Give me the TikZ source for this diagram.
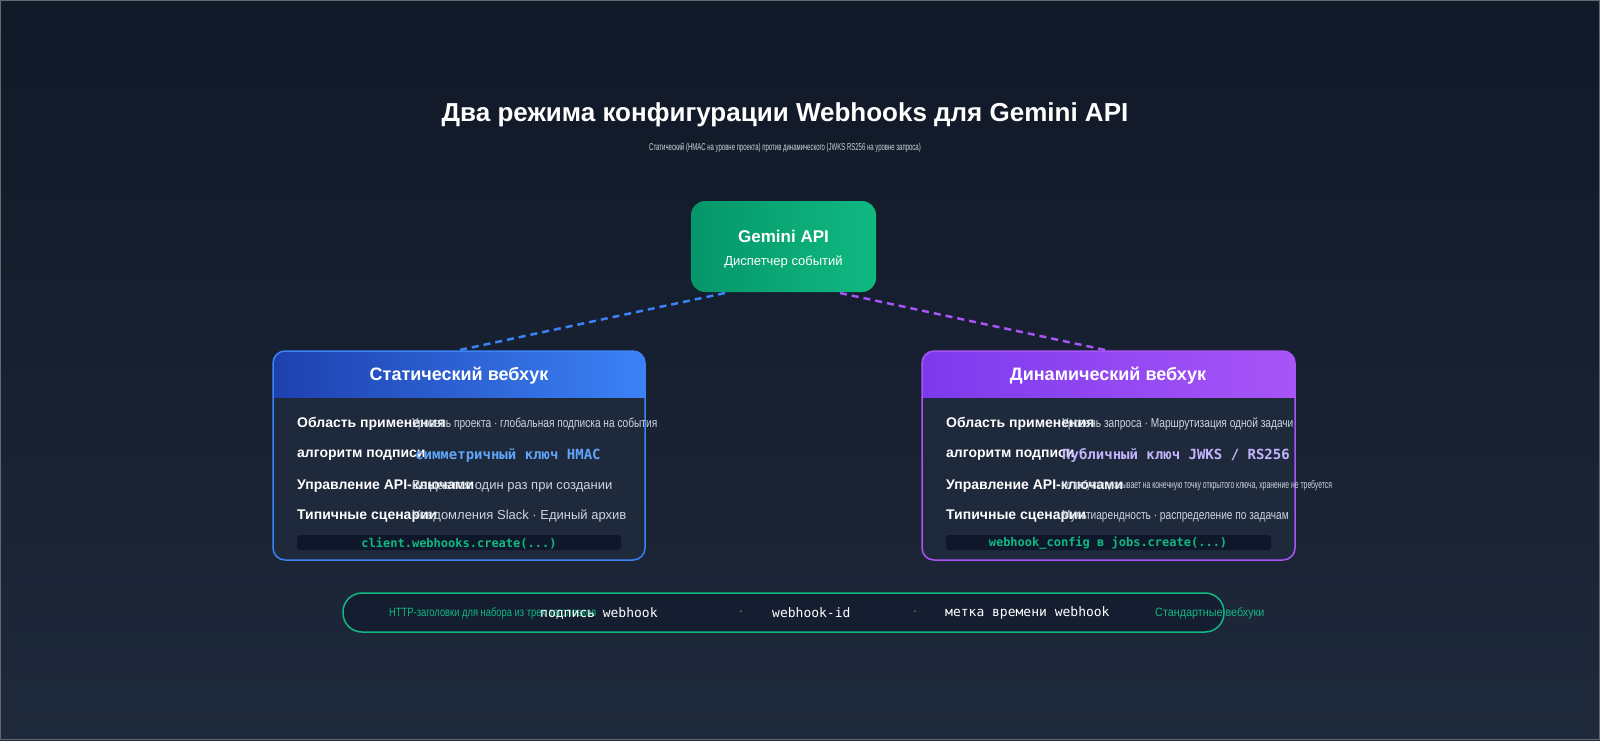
\documentclass[tikz,border=0pt]{standalone}
\usepackage{fontspec}
\setmainfont{Liberation Sans}
\setsansfont{Liberation Sans}
\setmonofont{DejaVu Sans Mono}
\usetikzlibrary{positioning}
\definecolor{bgtop}{HTML}{111827}
\definecolor{bgbot}{HTML}{1E293B}
\definecolor{cardbg}{HTML}{1E293B}
\definecolor{codebg}{HTML}{0F172A}
\definecolor{blueA}{HTML}{1E40AF}
\definecolor{blueB}{HTML}{3B82F6}
\definecolor{purA}{HTML}{7C3AED}
\definecolor{purB}{HTML}{A855F7}
\definecolor{grn}{HTML}{10B981}
\definecolor{grnD}{HTML}{059669}
\definecolor{txtgray}{HTML}{CBD5E1}
\definecolor{hmac}{HTML}{60A5FA}
\definecolor{jwks}{HTML}{C4B5FD}
\newcommand{\cond}[1]{\scalebox{0.78}[1]{#1}}
\tikzset{
  lbl/.style={anchor=west, text=white, font=\fontsize{14}{16}\selectfont\bfseries, inner sep=0},
  val/.style={anchor=west, text=txtgray, font=\fontsize{13}{15}\selectfont, inner sep=0},
  code/.style={text=grn, font=\fontsize{12}{14}\selectfont\ttfamily\bfseries},
  hdr/.style={text=white, font=\fontsize{18}{20}\selectfont\bfseries},
  link/.style={dashed, line width=2.5pt, dash pattern=on 7pt off 5pt},
}
\begin{document}
\begin{tikzpicture}[x=1pt,y=-1pt]
\useasboundingbox (0,0) rectangle (1600,740);
% background
\shade[top color=bgtop, bottom color=bgbot] (0,0) rectangle (1600,740);
\draw[bgbot!70!white, line width=1pt] (0.5,0.5) rectangle (1599.5,739.5);
% title
\node[text=white, font=\fontsize{26}{30}\selectfont\bfseries] (title) at (785,115) {Два режима конфигурации Webhooks для Gemini API};
\node[text=txtgray, font=\fontsize{10}{12}\selectfont] (subtitle) at (785,148) {\scalebox{0.6}[1]{Статический (HMAC на уровне проекта) против динамического (JWKS RS256 на уровне запроса)}};
% dispatcher
\shade[rounded corners=14pt, left color=grnD, right color=grn] (691,201) rectangle (876,292);
\node[text=white, font=\fontsize{17}{20}\selectfont\bfseries] (gemini) at (783.5,236) {Gemini API};
\node[text=white, font=\fontsize{13}{15}\selectfont] (disp) at (783.5,262) {Диспетчер событий};
\coordinate (gL) at (725,293);
\coordinate (gR) at (840,293);
\coordinate (sTop) at (455,351);
\coordinate (dTop) at (1110,351);
\draw[link, blueB] (gL) -- (sTop);
\draw[link, purB] (gR) -- (dTop);
% static card
\fill[cardbg, rounded corners=12pt] (273,351) rectangle (645,560);
\begin{scope}
\clip[rounded corners=12pt] (273,351) rectangle (645,560);
\shade[left color=blueA, right color=blueB] (273,351) rectangle (645,397);
\end{scope}
\draw[blueB, line width=1.5pt, rounded corners=12pt] (273,351) rectangle (645,560);
\node[hdr] (static) at (459,376) {Статический вебхук};
\node[lbl] (s1) at (297,424) {Область применения};
\node[val] (s1v) at (412,424) {\cond{Уровень проекта · глобальная подписка на события}};
\node[lbl] (s2) at (297,455) {алгоритм подписи};
\node[val, text=hmac, font=\fontsize{14}{16}\selectfont\ttfamily\bfseries] (s2v) at (415,455) {симметричный ключ HMAC};
\node[lbl] (s3) at (297,486) {Управление API-ключами};
\node[val] (s3v) at (412,486) {Выдается один раз при создании};
\node[lbl] (s4) at (297,516) {Типичные сценарии};
\node[val] (s4v) at (412,516) {Уведомления Slack · Единый архив};
\fill[codebg, rounded corners=3pt] (297,535) rectangle (621,550);
\node[code] (scode) at (459,543) {client.webhooks.create(...)};
% dynamic card
\fill[cardbg, rounded corners=12pt] (922,351) rectangle (1295,560);
\begin{scope}
\clip[rounded corners=12pt] (922,351) rectangle (1295,560);
\shade[left color=purA, right color=purB] (922,351) rectangle (1295,397);
\end{scope}
\draw[purB, line width=1.5pt, rounded corners=12pt] (922,351) rectangle (1295,560);
\node[hdr] (dynamic) at (1108,376) {Динамический вебхук};
\node[lbl] (d1) at (946,424) {Область применения};
\node[val] (d1v) at (1062,424) {\cond{Уровень запроса · Маршрутизация одной задачи}};
\node[lbl] (d2) at (946,455) {алгоритм подписи};
\node[val, text=jwks, font=\fontsize{14}{16}\selectfont\ttfamily\bfseries] (d2v) at (1062,455) {Публичный ключ JWKS / RS256};
\node[lbl] (d3) at (946,486) {Управление API-ключами};
\node[val, font=\fontsize{11}{13}\selectfont] (d3v) at (1062,486) {\scalebox{0.62}[1]{Не требуется: указывает на конечную точку открытого ключа, хранение не требуется}};
\node[lbl] (d4) at (946,516) {Типичные сценарии};
\node[val] (d4v) at (1062,516) {\cond{Мультиарендность · распределение по задачам}};
\fill[codebg, rounded corners=3pt] (946,535) rectangle (1271,550);
\node[code] (dcode) at (1108,543) {webhook\_config в jobs.create(...)};
% headers bar
\draw[grn, line width=1.5pt, fill=codebg!60!cardbg, rounded corners=19pt] (343,593) rectangle (1224,632);
\node[val, text=grn, font=\fontsize{12}{14}\selectfont] (hint) at (389,613) {\cond{HTTP-заголовки для набора из трех заголовков}};
\node[val, text=white, font=\fontsize{13}{15}\selectfont\ttfamily] (h1) at (540,613) {подпись webhook};
\node[text=txtgray] (dot1) at (741,613) {·};
\node[val, text=white, font=\fontsize{13}{15}\selectfont\ttfamily] (h2) at (772,613) {webhook-id};
\node[text=txtgray] (dot2) at (915,613) {·};
\node[val, text=white, font=\fontsize{13}{15}\selectfont\ttfamily] (h3) at (945,613) {метка времени webhook};
\node[val, text=grn, font=\fontsize{12}{14}\selectfont] (std) at (1155,613) {\scalebox{0.9}[1]{Стандартные вебхуки}};
\end{tikzpicture}
\end{document}
